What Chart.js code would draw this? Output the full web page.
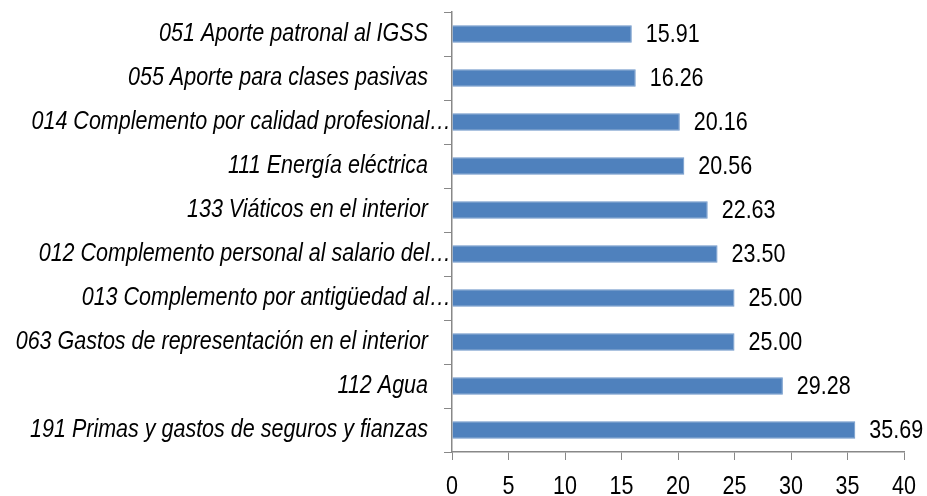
<!DOCTYPE html>
<html><head><meta charset="utf-8">
<script src="https://cdn.jsdelivr.net/npm/chart.js@4/dist/chart.umd.min.js"></script>
<style>html,body{margin:0;padding:0;background:#fff}#wrap{width:927px;height:496px}</style>
</head><body><div id="wrap"><canvas id="c" width="927" height="496"></canvas></div>
<script>
const categories = [
  "051 Aporte patronal al IGSS",
  "055 Aporte para clases pasivas",
  "014 Complemento por calidad profesional…",
  "111 Energía eléctrica",
  "133 Viáticos en el interior",
  "012 Complemento personal al salario del…",
  "013 Complemento por antigüedad al…",
  "063 Gastos de representación en el interior",
  "112 Agua",
  "191 Primas y gastos de seguros y fianzas"
];
const values = [15.91, 16.26, 20.16, 20.56, 22.63, 23.50, 25.00, 25.00, 29.28, 35.69];
const xTicks = [0, 5, 10, 15, 20, 25, 30, 35, 40];

const FONT = "'Liberation Sans', Arial, sans-serif";
const NARROW = 0.86;   // emulate a narrow typeface
const SIZE = 25;

function narrowText(ctx, text, x, y, align) {
  ctx.save();
  ctx.translate(x, y);
  ctx.scale(NARROW, 1);
  ctx.textAlign = align;
  ctx.fillText(text, 0, 0);
  ctx.restore();
}

const textPlugin = {
  id: 'narrowTexts',
  afterDraw(chart) {
    const ctx = chart.ctx;
    const meta = chart.getDatasetMeta(0);
    const xs = chart.scales.x, ys = chart.scales.y;
    ctx.save();
    ctx.fillStyle = "#000";
    // value labels
    ctx.font = SIZE + "px " + FONT;
    ctx.textBaseline = "middle";
    meta.data.forEach((bar, i) => {
      narrowText(ctx, values[i].toFixed(2), bar.x + 14, bar.y + 1, 'left');
    });
    // category labels (truncated ones run up to the axis)
    ctx.font = "italic " + SIZE + "px " + FONT;
    categories.forEach((c, i) => {
      const right = c.endsWith('…') ? ys.right - 1 : ys.right - 24;
      narrowText(ctx, c, right, ys.getPixelForValue(i), 'right');
    });
    // x tick labels
    ctx.font = SIZE + "px " + FONT;
    ctx.textBaseline = "alphabetic";
    xTicks.forEach(v => {
      narrowText(ctx, String(v), xs.getPixelForValue(v), 494, 'center');
    });
    ctx.restore();
  }
};

new Chart(document.getElementById('c'), {
  type: 'bar',
  data: {
    labels: categories,
    datasets: [{
      data: values,
      backgroundColor: '#4F81BD',
      borderColor: '#6C95C8',
      borderWidth: 1,
      barPercentage: 0.4,
      categoryPercentage: 1.0
    }]
  },
  options: {
    indexAxis: 'y',
    responsive: false,
    animation: false,
    layout: { padding: { top: 12, right: 23, left: 0, bottom: 0 } },
    plugins: { legend: { display: false }, tooltip: { enabled: false } },
    scales: {
      x: {
        min: 0, max: 40,
        afterBuildTicks(axis) { axis.ticks = xTicks.map(v => ({ value: v })); },
        afterFit(axis) { axis.height = 44; axis.paddingLeft = 0; axis.paddingRight = 0; },
        grid: { drawOnChartArea: false, drawTicks: true, tickLength: 8, color: '#888', tickColor: '#888' },
        border: { display: true, color: '#888', width: 1.5 },
        ticks: { display: false }
      },
      y: {
        afterFit(axis) { axis.width = 452; axis.paddingTop = 0; axis.paddingBottom = 0; },
        grid: { offset: true, drawOnChartArea: false, drawTicks: true, tickLength: 8, color: '#888', tickColor: '#888' },
        border: { display: true, color: '#888', width: 1.5 },
        ticks: { display: false }
      }
    }
  },
  plugins: [textPlugin]
});
</script></body></html>
